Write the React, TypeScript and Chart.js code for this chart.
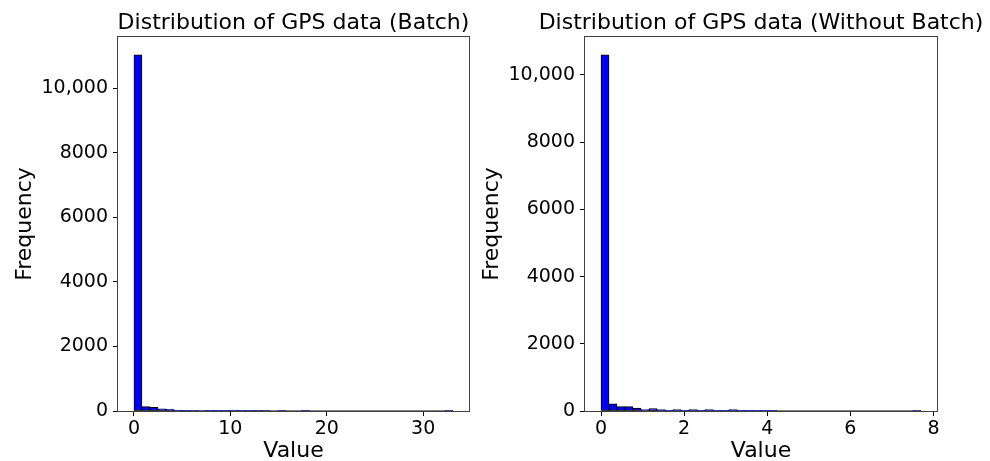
import React, { useEffect, useRef } from "react";
import { Chart, registerables } from "chart.js";

Chart.register(...registerables);

// ---- Data ----
const LEFT_TITLE = "Distribution of GPS data (Batch)";
const RIGHT_TITLE = "Distribution of GPS data (Without Batch)";
const X_LABEL = "Value";
const Y_LABEL = "Frequency";

const LEFT_DATA_MAX = 33.1; // histogram range [0, max]
const LEFT_COUNTS = [
  11030, 135, 115, 70, 50, 25, 20, 18, 15, 12, 10, 5, 30, 3, 2, 1, 1, 0, 1, 0,
  0, 1, 0, 0, 0, 0, 0, 0, 0, 0, 0, 0, 0, 0, 0, 0, 0, 0, 0, 1,
];
const LEFT_X_TICKS = [0, 10, 20, 30];

const RIGHT_DATA_MAX = 7.7;
const RIGHT_COUNTS = [
  10600, 215, 130, 130, 85, 40, 70, 40, 20, 40, 10, 40, 5, 40, 5, 5, 40, 5, 5, 8,
  10, 3, 0, 0, 0, 0, 0, 0, 0, 0, 0, 0, 0, 0, 0, 0, 0, 0, 0, 1,
];
const RIGHT_X_TICKS = [0, 2, 4, 6, 8];

const Y_TICKS = [0, 2000, 4000, 6000, 8000, 10000];

const FONT = '"DejaVu Sans", "Liberation Sans", sans-serif';

function fmtY(v: number) {
  return v >= 10000 ? v.toLocaleString("en-US") : String(v);
}

const framePlugin = {
  id: "frameAndTitle",
  afterDraw(chart: any) {
    const { ctx, chartArea } = chart;
    const { left, right, top, bottom } = chartArea;
    ctx.save();
    ctx.strokeStyle = "#404040";
    ctx.lineWidth = 1;
    ctx.strokeRect(Math.round(left) - 0.5, Math.round(top) - 0.5, Math.round(right - left) + 1, Math.round(bottom - top) + 1);
    const t = chart.options.plugins.customTitle?.text;
    if (t) {
      ctx.fillStyle = "#000";
      ctx.font = `22px ${FONT}`;
      ctx.textAlign = "center";
      ctx.textBaseline = "alphabetic";
      ctx.fillText(t, (left + right) / 2, 29);
    }
    ctx.restore();
  },
};

function makeConfig(
  title: string,
  counts: number[],
  dataMax: number,
  xTicks: number[],
  yMax: number,
  yWidth: number,
  padRight: number,
  yTitlePad: number
): any {
  const w = dataMax / counts.length;
  const bars = counts.map((c, i) => ({ x: (i + 0.5) * w, y: c }));
  return {
    type: "bar",
    data: {
      datasets: [
        {
          type: "bar",
          data: bars,
          backgroundColor: "#0000ff",
          borderColor: "#000000",
          borderWidth: 1,
          borderSkipped: false,
          barPercentage: 1,
          categoryPercentage: 1,
        },
        {
          type: "line",
          data: [
            { x: 0, y: 0 },
            { x: dataMax, y: 0 },
          ],
          borderColor: "#000000",
          borderWidth: 1,
          pointRadius: 0,
        },
      ],
    },
    options: {
      animation: false,
      responsive: false,
      devicePixelRatio: 1,
      layout: { padding: { top: 37, right: padRight, left: 0, bottom: 0 } },
      plugins: {
        legend: { display: false },
        tooltip: { enabled: false },
        title: { display: false },
        customTitle: { text: title },
      },
      scales: {
        x: {
          type: "linear",
          offset: false,
          min: -0.05 * dataMax,
          max: 1.05 * dataMax,
          afterBuildTicks: (s: any) => {
            s.ticks = xTicks.map((v) => ({ value: v }));
          },
          afterFit: (s: any) => {
            s.height = 50;
          },
          ticks: {
            color: "#000",
            font: { family: FONT, size: 19 },
            padding: 2,
            maxRotation: 0,
            autoSkip: false,
            callback: (v: number) => String(v),
          },
          grid: { offset: false, drawOnChartArea: false, drawTicks: true, tickLength: 5, color: "#000" },
          border: { display: false },
          title: {
            display: true,
            text: X_LABEL,
            color: "#000",
            font: { family: FONT, size: 22, lineHeight: 0.9 },
            padding: { top: 0, bottom: 0 },
          },
        },
        y: {
          type: "linear",
          min: 0,
          max: yMax,
          afterBuildTicks: (s: any) => {
            s.ticks = Y_TICKS.map((v) => ({ value: v }));
          },
          afterFit: (s: any) => {
            s.width = yWidth;
          },
          ticks: {
            color: "#000",
            font: { family: FONT, size: 19 },
            padding: 5,
            autoSkip: false,
            callback: (v: number) => fmtY(v),
          },
          grid: { offset: false, drawOnChartArea: false, drawTicks: true, tickLength: 5, color: "#000" },
          border: { display: false },
          title: {
            display: true,
            text: Y_LABEL,
            color: "#000",
            font: { family: FONT, size: 22, lineHeight: 1.2 },
            padding: { top: yTitlePad, bottom: 0 },
          },
        },
      },
    },
    plugins: [framePlugin],
  };
}

export default function App() {
  const leftRef = useRef<HTMLCanvasElement>(null);
  const rightRef = useRef<HTMLCanvasElement>(null);

  useEffect(() => {
    const c1 = new Chart(
      leftRef.current!,
      makeConfig(LEFT_TITLE, LEFT_COUNTS, LEFT_DATA_MAX, LEFT_X_TICKS, 11580, 118, 1, 12)
    );
    const c2 = new Chart(
      rightRef.current!,
      makeConfig(RIGHT_TITLE, RIGHT_COUNTS, RIGHT_DATA_MAX, RIGHT_X_TICKS, 11130, 115, 53, 9)
    );
    return () => {
      c1.destroy();
      c2.destroy();
    };
  }, []);

  return (
    <div style={{ position: "absolute", left: 0, top: 0, width: 990, height: 461, background: "#fff" }}>
      <canvas
        ref={leftRef}
        width={470}
        height={461}
        style={{ position: "absolute", left: 0, top: 0, width: 470, height: 461 }}
      />
      <canvas
        ref={rightRef}
        width={520}
        height={461}
        style={{ position: "absolute", left: 470, top: 0, width: 520, height: 461 }}
      />
    </div>
  );
}
